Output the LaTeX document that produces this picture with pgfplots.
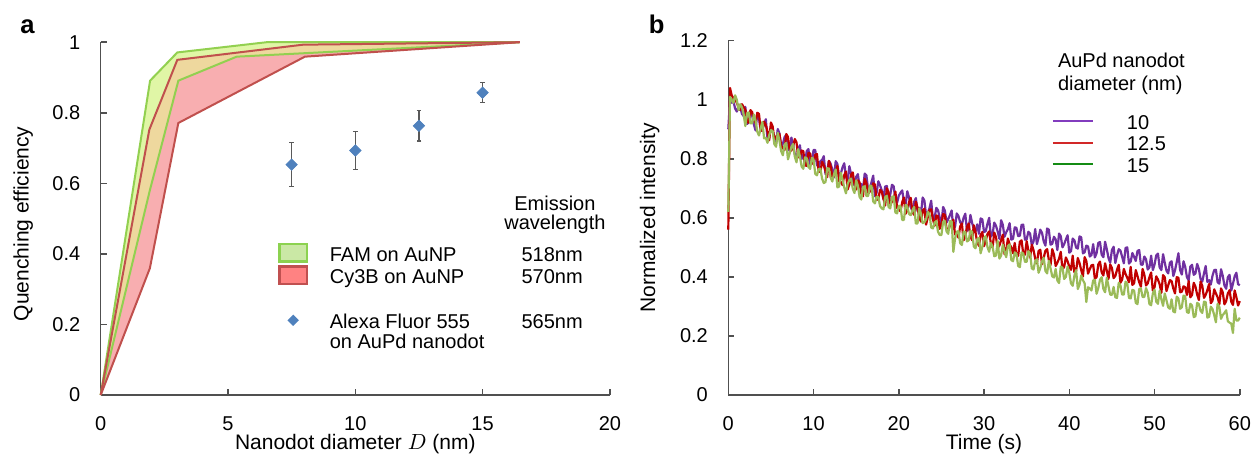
\documentclass[border=0pt]{standalone}
\usepackage{pgfplots}
\pgfplotsset{compat=1.18}
\usepackage{pgfplotstable}
\usepackage{fontspec}
\setmainfont{Liberation Sans}

\definecolor{gline}{RGB}{146,208,80}
\definecolor{rline}{RGB}{192,80,77}
\definecolor{gfill}{RGB}{224,246,166}
\definecolor{rfill}{RGB}{248,174,176}
\definecolor{ofill}{RGB}{238,216,158}
\definecolor{lgfill}{RGB}{202,232,165}
\definecolor{lgline}{RGB}{140,210,80}
\definecolor{lrfill}{RGB}{255,130,130}
\definecolor{lrline}{RGB}{192,80,80}
\definecolor{dblue}{RGB}{79,129,189}
\definecolor{errgray}{RGB}{89,89,89}
\definecolor{purp}{RGB}{112,48,160}
\definecolor{redt}{RGB}{192,0,0}
\definecolor{greent}{RGB}{155,187,89}
\definecolor{lpurp}{RGB}{130,60,190}
\definecolor{lred}{RGB}{210,40,40}
\definecolor{lgreen}{RGB}{20,140,20}
\definecolor{axgray}{RGB}{80,80,80}

% normalized intensity traces, t in s; p = 10 nm, r = 12.5 nm, g = 15 nm
\pgfplotstableread{
t p r g
0 0.900 0.560 0.620
0.2 1.000 1.040 1.010
0.4 0.990 1.015 1.000
0.6 0.995 1.005 0.990
0.8 0.970 1.000 1.015
1.0 0.960 0.990 1.000
1.2 0.978 0.975 0.965
1.4 0.975 0.965 0.985
1.6 0.952 0.985 0.975
1.8 0.945 0.975 0.950
2.0 0.976 0.966 0.911
2.2 0.918 0.924 0.955
2.4 0.924 0.923 0.957
2.6 0.962 0.965 0.920
2.8 0.946 0.958 0.921
3.0 0.916 0.932 0.950
3.2 0.896 0.921 0.929
3.4 0.955 0.956 0.892
3.6 0.938 0.952 0.879
3.8 0.894 0.896 0.904
4.0 0.902 0.895 0.925
4.2 0.916 0.926 0.869
4.4 0.934 0.915 0.871
4.6 0.866 0.892 0.854
4.8 0.872 0.863 0.880
5.0 0.908 0.923 0.897
5.2 0.892 0.910 0.894
5.4 0.876 0.866 0.850
5.6 0.850 0.875 0.841
5.8 0.901 0.879 0.888
6.0 0.886 0.884 0.862
6.2 0.842 0.844 0.826
6.4 0.850 0.836 0.812
6.6 0.873 0.830 0.848
6.8 0.882 0.884 0.854
7.0 0.840 0.874 0.798
7.2 0.826 0.831 0.818
7.4 0.872 0.828 0.840
7.6 0.847 0.841 0.850
7.8 0.816 0.867 0.808
8.0 0.796 0.856 0.788
8.2 0.831 0.806 0.833
8.4 0.846 0.804 0.808
8.6 0.799 0.828 0.774
8.8 0.814 0.826 0.766
9.0 0.787 0.778 0.805
9.2 0.826 0.776 0.802
9.4 0.833 0.820 0.772
9.6 0.780 0.818 0.766
9.8 0.789 0.788 0.804
10.0 0.830 0.782 0.798
10.2 0.830 0.814 0.749
10.4 0.779 0.816 0.744
10.6 0.771 0.757 0.765
10.8 0.792 0.756 0.767
11.0 0.796 0.790 0.733
11.2 0.809 0.778 0.718
11.4 0.748 0.759 0.721
11.6 0.760 0.738 0.768
11.8 0.793 0.793 0.767
12.0 0.784 0.776 0.736
12.2 0.764 0.739 0.723
12.4 0.737 0.742 0.748
12.6 0.792 0.755 0.764
12.8 0.782 0.776 0.703
13.0 0.736 0.723 0.706
13.2 0.750 0.722 0.753
13.4 0.771 0.711 0.730
13.6 0.785 0.745 0.703
13.8 0.741 0.757 0.683
14.0 0.726 0.696 0.715
14.2 0.775 0.713 0.728
14.4 0.749 0.746 0.733
14.6 0.722 0.754 0.699
14.8 0.710 0.715 0.684
15.0 0.739 0.696 0.727
15.2 0.748 0.727 0.709
15.4 0.707 0.720 0.671
15.6 0.715 0.682 0.662
15.8 0.696 0.673 0.705
16.0 0.750 0.732 0.707
16.2 0.744 0.718 0.674
16.4 0.697 0.682 0.674
16.6 0.701 0.689 0.709
16.8 0.721 0.695 0.708
17.0 0.743 0.717 0.655
17.2 0.673 0.713 0.649
17.4 0.685 0.661 0.672
17.6 0.724 0.664 0.671
17.8 0.710 0.695 0.640
18.0 0.693 0.689 0.632
18.2 0.663 0.665 0.629
18.4 0.706 0.642 0.670
18.6 0.708 0.700 0.675
18.8 0.661 0.687 0.637
19.0 0.679 0.647 0.632
19.2 0.712 0.654 0.671
19.4 0.707 0.664 0.673
19.6 0.662 0.689 0.618
19.8 0.651 0.633 0.615
20.0 0.675 0.630 0.641
20.2 0.685 0.622 0.640
20.4 0.693 0.653 0.593
20.6 0.655 0.669 0.593
20.8 0.644 0.614 0.644
21.0 0.690 0.626 0.638
21.2 0.669 0.653 0.613
21.4 0.637 0.668 0.609
21.6 0.622 0.620 0.626
21.8 0.654 0.610 0.637
22.0 0.667 0.655 0.581
22.2 0.623 0.634 0.581
22.4 0.634 0.602 0.632
22.6 0.612 0.587 0.615
22.8 0.669 0.625 0.582
23.0 0.659 0.631 0.585
23.2 0.610 0.577 0.595
23.4 0.616 0.602 0.620
23.6 0.633 0.627 0.613
23.8 0.658 0.629 0.567
24.0 0.594 0.596 0.564
24.2 0.600 0.573 0.584
24.4 0.634 0.608 0.589
24.6 0.626 0.606 0.553
24.8 0.601 0.563 0.542
25.0 0.579 0.576 0.542
25.2 0.637 0.613 0.587
25.4 0.625 0.610 0.589
25.6 0.584 0.563 0.554
25.8 0.596 0.557 0.546
26.0 0.609 0.575 0.589
26.2 0.625 0.574 0.588
26.4 0.562 0.594 0.485
26.6 0.570 0.544 0.530
26.8 0.615 0.545 0.553
27.0 0.606 0.533 0.555
27.2 0.585 0.571 0.514
27.4 0.577 0.581 0.508
27.6 0.600 0.524 0.553
27.8 0.614 0.538 0.553
28.0 0.556 0.570 0.520
28.2 0.563 0.581 0.524
28.4 0.610 0.538 0.556
28.6 0.583 0.524 0.553
28.8 0.562 0.575 0.503
29.0 0.554 0.551 0.497
29.2 0.578 0.517 0.528
29.4 0.546 0.505 0.532
29.6 0.598 0.542 0.480
29.8 0.595 0.552 0.502
30.0 0.552 0.504 0.532
30.2 0.555 0.524 0.538
30.4 0.580 0.545 0.501
30.6 0.600 0.554 0.485
30.8 0.536 0.513 0.515
31.0 0.545 0.499 0.503
31.2 0.584 0.550 0.470
31.4 0.573 0.535 0.472
31.6 0.554 0.498 0.522
31.8 0.529 0.506 0.462
32.0 0.592 0.524 0.472
32.2 0.577 0.543 0.509
32.4 0.536 0.477 0.486
32.6 0.551 0.491 0.467
32.8 0.562 0.530 0.505
33.0 0.582 0.510 0.510
33.2 0.526 0.500 0.457
33.4 0.529 0.480 0.453
33.6 0.568 0.515 0.483
33.8 0.566 0.471 0.479
34.0 0.538 0.471 0.437
34.2 0.539 0.519 0.433
34.4 0.576 0.524 0.483
34.6 0.577 0.478 0.479
34.8 0.526 0.475 0.451
35.0 0.527 0.521 0.451
35.2 0.553 0.490 0.487
35.4 0.547 0.465 0.480
35.6 0.508 0.509 0.429
35.8 0.519 0.491 0.425
36.0 0.562 0.462 0.453
36.2 0.511 0.446 0.460
36.4 0.533 0.488 0.414
36.6 0.560 0.492 0.430
36.8 0.549 0.443 0.453
37.0 0.520 0.465 0.465
37.2 0.506 0.489 0.420
37.4 0.564 0.494 0.412
37.6 0.560 0.458 0.455
37.8 0.509 0.440 0.429
38.0 0.512 0.494 0.402
38.2 0.536 0.476 0.398
38.4 0.527 0.437 0.427
38.6 0.491 0.448 0.388
38.8 0.547 0.462 0.379
39.0 0.538 0.485 0.435
39.2 0.500 0.425 0.431
39.4 0.511 0.434 0.393
39.6 0.527 0.466 0.400
39.8 0.541 0.453 0.435
40.0 0.482 0.435 0.414
40.2 0.487 0.424 0.378
40.4 0.530 0.472 0.370
40.6 0.524 0.415 0.404
40.8 0.499 0.421 0.423
41.0 0.496 0.464 0.359
41.2 0.537 0.447 0.374
41.4 0.534 0.423 0.405
41.6 0.480 0.401 0.389
41.8 0.483 0.467 0.378
42.0 0.506 0.454 0.315
42.2 0.503 0.411 0.365
42.4 0.469 0.426 0.361
42.6 0.474 0.439 0.354
42.8 0.511 0.441 0.388
43.0 0.466 0.394 0.390
43.2 0.480 0.399 0.343
43.4 0.515 0.442 0.362
43.6 0.518 0.452 0.390
43.8 0.475 0.415 0.399
44.0 0.467 0.405 0.359
44.2 0.519 0.446 0.348
44.4 0.494 0.421 0.397
44.6 0.464 0.393 0.368
44.8 0.448 0.442 0.340
45.0 0.491 0.430 0.339
45.2 0.502 0.396 0.366
45.4 0.447 0.403 0.331
45.6 0.473 0.424 0.329
45.8 0.494 0.441 0.380
46.0 0.489 0.380 0.371
46.2 0.468 0.391 0.340
46.4 0.446 0.427 0.340
46.6 0.498 0.410 0.384
46.8 0.500 0.397 0.378
47.0 0.445 0.382 0.329
47.2 0.452 0.434 0.327
47.4 0.481 0.373 0.356
47.6 0.468 0.378 0.354
47.8 0.454 0.423 0.312
48.0 0.488 0.403 0.308
48.2 0.491 0.382 0.359
48.4 0.442 0.367 0.361
48.6 0.441 0.427 0.332
48.8 0.469 0.408 0.332
49.0 0.460 0.371 0.362
49.2 0.425 0.378 0.347
49.4 0.432 0.399 0.308
49.6 0.472 0.415 0.304
49.8 0.423 0.354 0.344
50.0 0.442 0.365 0.357
50.2 0.473 0.402 0.316
50.4 0.479 0.391 0.309
50.6 0.432 0.375 0.353
50.8 0.423 0.346 0.324
51.0 0.477 0.406 0.302
51.2 0.448 0.399 0.344
51.4 0.421 0.352 0.321
51.6 0.412 0.371 0.297
51.8 0.448 0.389 0.292
52.0 0.453 0.386 0.324
52.2 0.403 0.361 0.283
52.4 0.422 0.344 0.280
52.6 0.450 0.399 0.333
52.8 0.480 0.397 0.327
53.0 0.423 0.348 0.292
53.2 0.408 0.350 0.297
53.4 0.453 0.368 0.337
53.6 0.434 0.365 0.334
53.8 0.399 0.339 0.281
54.0 0.388 0.386 0.278
54.2 0.435 0.331 0.309
54.4 0.441 0.339 0.303
54.6 0.407 0.380 0.264
54.8 0.412 0.367 0.267
55.0 0.444 0.340 0.312
55.2 0.427 0.322 0.308
55.4 0.393 0.384 0.285
55.6 0.384 0.370 0.278
55.8 0.412 0.329 0.316
56.0 0.437 0.339 0.315
56.2 0.383 0.356 0.262
56.4 0.389 0.376 0.265
56.6 0.374 0.311 0.299
56.8 0.404 0.319 0.291
57.0 0.423 0.358 0.271
57.2 0.424 0.344 0.246
57.4 0.382 0.331 0.309
57.6 0.377 0.307 0.299
57.8 0.426 0.361 0.258
58.0 0.404 0.348 0.271
58.2 0.371 0.307 0.278
58.4 0.360 0.318 0.287
58.6 0.399 0.344 0.250
58.8 0.407 0.355 0.245
59.0 0.354 0.316 0.242
59.2 0.377 0.305 0.210
59.4 0.402 0.354 0.292
59.6 0.414 0.331 0.252
59.8 0.375 0.303 0.252
60.0 0.372 0.318 0.262
}\tracedata

\pgfplotsset{
  panel/.style={
    scale only axis,
    axis lines*=left,
    axis line style={draw=axgray,line width=0.75pt},
    tick style={draw=axgray,line width=0.75pt},
    tick align=inside,
    major tick length=3pt,
    clip=false,
    /pgf/number format/assume math mode=true,
    tick label style={font=\fontsize{10}{12}\selectfont},
    yticklabel style={xshift=-6.7pt},
    xticklabel style={yshift=-7.4pt},
    label style={font=\fontsize{10.5}{12}\selectfont},
    legend cell align=left,
    legend style={draw=none,fill=none,inner sep=0pt,outer sep=0pt,
      column sep=0pt,row sep=0pt,nodes={inner sep=0pt,outer sep=0pt},
      font=\fontsize{10}{12}\selectfont},
  },
  trace/.style={line width=1.1pt,line join=round,forget plot},
}
\renewcommand\arraystretch{0.81}

\begin{document}
\begin{tikzpicture}
% ---------------- panel a ----------------
\begin{axis}[panel,at={(0pt,0pt)},anchor=south west,
  width=254.6pt,height=176.4pt,
  xmin=0,xmax=20,ymin=0,ymax=1,
  xtick={0,5,10,15,20},ytick={0,0.2,0.4,0.6,0.8,1},
  ylabel={Quenching efficiency},
  ylabel style={at={(axis description cs:-0.1414,0.485)},anchor=base},
  legend style={at={(axis cs:6.97,0.435)},anchor=north west}]
% bands
\addplot[fill=gfill,draw=none,forget plot] coordinates {(0,0)(1.94,0.891)(3.01,0.971)(6.52,1.0)(16.46,1.0)(5.34,0.959)(3.05,0.891)(1.93,0.58)} -- cycle;
\addplot[fill=rfill,draw=none,forget plot] coordinates {(0,0)(1.91,0.752)(3.01,0.95)(7.95,0.993)(16.46,1.0)(8.02,0.959)(3.05,0.771)(1.93,0.359)} -- cycle;
\addplot[fill=ofill,draw=none,forget plot] coordinates {(0,0)(1.91,0.752)(3.01,0.95)(7.95,0.993)(16.46,1.0)(5.34,0.959)(3.05,0.891)(1.93,0.58)} -- cycle;
% band edges
\addplot[gline,line width=1pt,forget plot] coordinates {(0,0)(1.94,0.891)(3.01,0.971)(6.52,1.0)(16.46,1.0)};
\addplot[gline,line width=1pt,forget plot] coordinates {(0,0)(1.93,0.58)(3.05,0.891)(5.34,0.959)(16.46,1.0)};
\addplot[rline,line width=1pt,forget plot] coordinates {(0,0)(1.91,0.752)(3.01,0.95)(7.95,0.993)(16.46,1.0)};
\addplot[rline,line width=1pt,forget plot] coordinates {(0,0)(1.93,0.359)(3.05,0.771)(8.02,0.959)(16.46,1.0)};
% AuPd nanodot measurements
\addplot[only marks,mark=square*,mark size=2pt,mark options={rotate=45,fill=dblue,draw=dblue},forget plot,
  error bars/.cd,y dir=both,y explicit,
  error bar style={errgray,line width=0.6pt},
  error mark options={errgray,rotate=90,mark size=1.2pt,line width=0.6pt}]
  coordinates {(7.5,0.653) +- (0,0.062) (10,0.693) +- (0,0.053) (12.5,0.763) +- (0,0.043) (15,0.857) +- (0,0.029)};

\addlegendimage{legend image code/.code={\draw[draw=lgline,fill=lgfill,line width=1.2pt] (0.6pt,-4.4pt) rectangle (14.4pt,4.4pt);}}
\addlegendentry{\rule[-3pt]{0pt}{12.75pt}\hspace*{10.85pt}\makebox[95.85pt][l]{FAM on AuNP}518nm}
\addlegendimage{legend image code/.code={\draw[draw=lrline,fill=lrfill,line width=1.2pt] (0.6pt,-4.4pt) rectangle (14.4pt,4.4pt);}}
\addlegendentry{\rule[-3pt]{0pt}{12.75pt}\hspace*{10.85pt}\makebox[95.85pt][l]{Cy3B on AuNP}570nm}
\addlegendimage{empty legend}
\addlegendentry{\rule[-3pt]{0pt}{12.75pt}}
\addlegendimage{legend image code/.code={\path[draw=none,fill=none] (0pt,-4.4pt) rectangle (15pt,4.4pt);
  \fill[dblue,draw=none,rotate around={45:(7.5pt,0pt)}] (5.5pt,-2pt) rectangle (9.5pt,2pt);}}
\addlegendentry{\rule[-3pt]{0pt}{12.75pt}\hspace*{10.85pt}\makebox[95.85pt][l]{\begin{tabular}[t]{@{}l@{}}Alexa Fluor 555\\on AuPd nanodot\end{tabular}}565nm}

\node[anchor=base,font=\fontsize{10}{12}\selectfont] at (axis cs:17.84,0.5227) {Emission};
\node[anchor=base,font=\fontsize{10}{12}\selectfont] at (axis cs:17.84,0.468) {wavelength};
\node[anchor=base,font=\fontsize{10.5}{12}\selectfont] at (axis description cs:0.5,-0.1548) {Nanodot diameter $D$ (nm)};
\end{axis}

% ---------------- panel b ----------------
\begin{axis}[panel,at={(313.8pt,0pt)},anchor=south west,
  width=255.75pt,height=177.15pt,
  xmin=0,xmax=60,ymin=0,ymax=1.2,
  xtick={0,10,...,60},ytick={0,0.2,0.4,0.6,0.8,1,1.2},
  ylabel={Normalized intensity},
  ylabel style={at={(axis description cs:-0.143,0.5)},anchor=base},
  legend style={at={(axis cs:37.97,0.963)},anchor=north west}]
\addplot[purp,trace] table[x=t,y=p] {\tracedata};
\addplot[redt,trace] table[x=t,y=r] {\tracedata};
\addplot[greent,trace] table[x=t,y=g] {\tracedata};

\addlegendimage{legend image code/.code={\draw[lpurp,line width=1pt] (0pt,0pt) -- (20pt,0pt);}}
\addlegendentry{\rule[-3pt]{0pt}{12.25pt}\hspace*{16.5pt}10}
\addlegendimage{legend image code/.code={\draw[lred,line width=1pt] (0pt,0pt) -- (20pt,0pt);}}
\addlegendentry{\rule[-3pt]{0pt}{12.25pt}\hspace*{16.5pt}12.5}
\addlegendimage{legend image code/.code={\draw[lgreen,line width=1pt] (0pt,0pt) -- (20pt,0pt);}}
\addlegendentry{\rule[-3pt]{0pt}{12.25pt}\hspace*{16.5pt}15}

\node[anchor=base west,font=\fontsize{10}{12}\selectfont] at (axis cs:37.85,1.109) {AuPd nanodot};
\node[anchor=base west,font=\fontsize{10}{12}\selectfont] at (axis cs:37.85,1.031) {diameter (nm)};
\node[anchor=base,font=\fontsize{10.5}{12}\selectfont] at (axis description cs:0.5,-0.1541) {Time (s)};
\end{axis}

\node[anchor=base west,font=\bfseries\fontsize{12.8}{14}\selectfont] at (-43.7pt,180.85pt) {a};
\node[anchor=base west,font=\bfseries\fontsize{12.8}{14}\selectfont] at (270.5pt,180.85pt) {b};

\pgfresetboundingbox
\path (-50.35pt,-33.5pt) rectangle (577.15pt,197.5pt);
\end{tikzpicture}
\end{document}
